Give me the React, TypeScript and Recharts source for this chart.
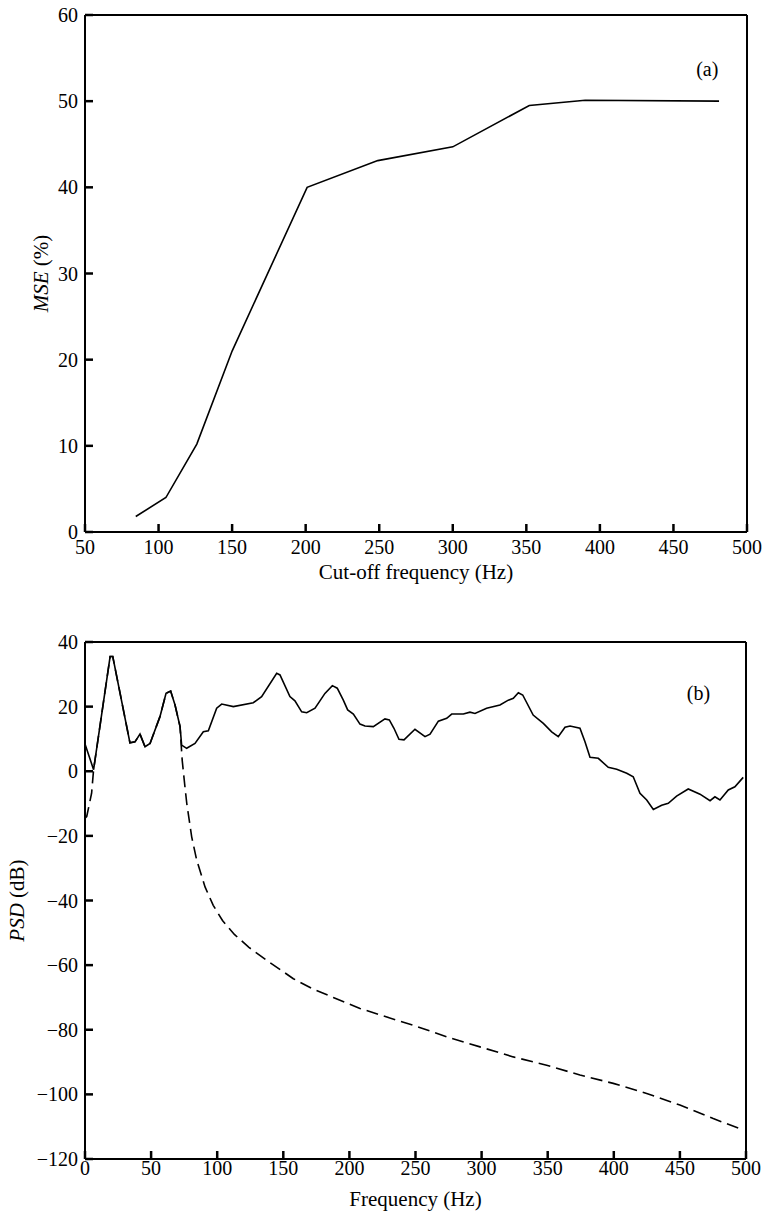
import { LineChart, Line, XAxis, YAxis, ReferenceLine, ReferenceDot } from 'recharts'

const serif = '"Liberation Serif", "Times New Roman", serif'

// (a) MSE against cut-off frequency
const cutoffHz = [74, 83.5, 84, 84.5, 105, 126, 150, 201, 249, 300, 352, 390, 481]
const msePct = [0, 0, null, 1.8, 4, 10.2, 21, 40, 43.1, 44.7, 49.5, 50.1, 50]
const cutoffTicks = [50, 100, 150, 200, 250, 300, 350, 400, 450, 500]
const mseTicks = [0, 10, 20, 30, 40, 50, 60]

// (b) PSD, solid = original signal
const solidHz = [
  0, 6.5, 19, 21, 34, 37.8, 41.6, 45.4, 49.2, 56.7, 61.3, 64.8, 68.1, 71.9, 73.1, 76.9, 83.2, 89.5,
  93.3, 99.6, 103.4, 112.2, 127.3, 133.6, 145, 147.5, 155, 158.8, 163.9, 167.7, 174, 181.5, 187.1,
  190.8, 195.4, 198.7, 203, 208, 211.8, 218.1, 226.9, 230.2, 233.7, 237.5, 241.3, 249.6, 257.2, 261,
  267.3, 273.6, 277.4, 286.2, 291.2, 295, 303.8, 313.9, 320.2, 324, 327.8, 331.1, 339, 346.7, 353,
  358, 363.1, 366.9, 374.4, 378.2, 382, 388.3, 395.8, 402.2, 409.8, 414.7, 419.8, 424.9, 429.9,
  436.2, 441.2, 447.5, 456.3, 465.2, 472.8, 476.5, 480.3, 486.6, 491.6, 497.9,
]
const solidDb = [
  8.4, 0.5, 35.5, 35.5, 8.8, 9.1, 11.5, 7.6, 8.6, 16.9, 24.1, 24.8, 20.5, 13.8, 8.1, 7.1, 8.6, 12.2,
  12.5, 19.5, 20.8, 20, 21.2, 23.1, 30.3, 29.8, 23.1, 21.8, 18.4, 18.1, 19.5, 24.1, 26.5,
  25.7, 22, 19, 17.7, 14.6, 14, 13.8, 16.2, 15.9, 13.3, 9.9, 9.7, 13, 10.7, 11.5,
  15.5, 16.4, 17.7, 17.7, 18.3, 17.9, 19.5, 20.5, 22, 22.6, 24.3, 23.6, 17.4, 14.8, 12.2,
  10.7, 13.6, 14, 13.3, 9.1, 4.3, 4, 1.2, 0.6, -0.6, -1.7, -6.8, -8.9, -11.8,
  -10.5, -9.9, -7.7, -5.5, -7.1, -9.1, -7.9, -8.9, -5.8, -4.8, -1.9,
]

// (b) PSD, dashed = low-pass filtered
const dashedHz = [
  0, 1.3, 5, 6.5, 19, 21, 34, 37.8, 41.6, 45.4, 49.2, 56.7, 61.3, 64.8, 68.1, 71.9, 73.5, 75.6, 77,
  80.7, 84.5, 90.8, 97, 104, 113, 124, 137.4, 157.6, 172, 187.8, 208, 223, 248.3, 273.6, 298.8, 324,
  349.2, 374.4, 399.6, 424.9, 450, 475.2, 495.4,
]
const dashedDb = [
  -14.5, -14, -6.8, 0.5, 35.5, 35.5, 8.8, 9.1, 11.5, 7.6, 8.6, 16.9, 24.1, 24.8, 20.5, 13.8, 3.5, -4.8, -10,
  -20.3, -27.5, -35.8, -41.5, -46.2, -50.5, -54.5, -58.5, -64.2, -67.3, -70, -73.4, -75.4, -78.6, -82.2,
  -85.3, -88.4, -91, -94, -96.6, -99.7, -103.3, -107.5, -110.6,
]
const freqTicks = [0, 50, 100, 150, 200, 250, 300, 350, 400, 450, 500]
const psdTicks = [-120, -100, -80, -60, -40, -20, 0, 20, 40]

const mseData = cutoffHz.map((f, i) => ({ f, v: msePct[i] }))
const solidData = solidHz.map((f, i) => ({ f, v: solidDb[i] }))
const dashedData = dashedHz.map((f, i) => ({ f, v: dashedDb[i] }))

const axisLine = { stroke: '#000', strokeWidth: 2 }
const minus = (v: number) => String(v).replace('-', '\u2212')

// ticks point into the plot, so the line is drawn here with the label
function XTick({ x, y, payload, m }: any) {
  const base = y - m
  return (
    <g>
      <line x1={x} x2={x} y1={base} y2={base - 8} stroke="#000" strokeWidth={2.5} />
      <text x={x} y={y} dy="0.71em" textAnchor="middle" fontFamily={serif} fontSize={20} fill="#000">
        {payload.value}
      </text>
    </g>
  )
}

function YTick({ x, y, payload, m }: any) {
  const base = x + m
  return (
    <g>
      <line x1={base} x2={base + 8} y1={y} y2={y} stroke="#000" strokeWidth={2.5} />
      <text x={x} y={y} dy="0.355em" textAnchor="end" fontFamily={serif} fontSize={20} fill="#000">
        {minus(payload.value)}
      </text>
    </g>
  )
}

function XTitle({ viewBox, text }: any) {
  const { x, y, width } = viewBox
  return (
    <text x={x + width / 2} y={y + 47} textAnchor="middle" fontFamily={serif} fontSize={21} fill="#000">
      {text}
    </text>
  )
}

function YTitle({ viewBox, italic, rest, bx }: any) {
  const { y, height } = viewBox
  const cy = y + height / 2
  return (
    <text
      transform={`translate(${bx},${cy}) rotate(-90)`}
      textAnchor="middle"
      fontFamily={serif}
      fontSize={21}
      fill="#000"
    >
      <tspan fontStyle="italic">{italic}</tspan>
      {rest}
    </text>
  )
}

function MsePanel() {
  return (
    <LineChart width={767} height={600} data={mseData} margin={{ top: 15, right: 20, left: 25, bottom: 28 }}>
      <XAxis
        dataKey="f"
        type="number"
        domain={[50, 500]}
        ticks={cutoffTicks}
        height={40}
        axisLine={axisLine}
        tickLine={false}
        tickSize={0}
        tickMargin={8}
        tick={(p: any) => <XTick {...p} m={8} />}
        label={{ content: (p: any) => <XTitle {...p} text="Cut-off frequency (Hz)" /> }}
      />
      <YAxis
        type="number"
        domain={[0, 60]}
        ticks={mseTicks}
        width={60}
        axisLine={axisLine}
        tickLine={false}
        tickSize={0}
        tickMargin={7}
        tick={(p: any) => <YTick {...p} m={7} />}
        label={{ content: (p: any) => <YTitle {...p} italic="MSE" rest=" (%)" bx={48} /> }}
      />
      <ReferenceLine y={60} stroke="#000" strokeWidth={2} />
      <ReferenceLine x={500} stroke="#000" strokeWidth={2} />
      <ReferenceDot
        x={473}
        y={53.8}
        r={0}
        fill="none"
        stroke="none"
        label={{ value: '(a)', position: 'center', fill: '#000', fontSize: 20, fontFamily: serif }}
      />
      <Line
        type="linear"
        dataKey="v"
        stroke="#000"
        strokeWidth={1.6}
        dot={false}
        isAnimationActive={false}
      />
    </LineChart>
  )
}

function PsdPanel() {
  return (
    <LineChart width={767} height={616} margin={{ top: 42, right: 21, left: 25, bottom: 17 }}>
      <XAxis
        dataKey="f"
        type="number"
        domain={[0, 500]}
        ticks={freqTicks}
        height={40}
        axisLine={axisLine}
        tickLine={false}
        tickSize={0}
        tickMargin={2}
        tick={(p: any) => <XTick {...p} m={2} />}
        label={{ content: (p: any) => <XTitle {...p} text="Frequency (Hz)" /> }}
      />
      <YAxis
        type="number"
        domain={[-120, 40]}
        ticks={psdTicks}
        width={60}
        axisLine={axisLine}
        tickLine={false}
        tickSize={0}
        tickMargin={7}
        tick={(p: any) => <YTick {...p} m={7} />}
        label={{ content: (p: any) => <YTitle {...p} italic="PSD" rest=" (dB)" bx={24} /> }}
      />
      <ReferenceLine y={40} stroke="#000" strokeWidth={2} />
      <ReferenceLine x={500} stroke="#000" strokeWidth={2} />
      <ReferenceDot
        x={464}
        y={24.2}
        r={0}
        fill="none"
        stroke="none"
        label={{ value: '(b)', position: 'center', fill: '#000', fontSize: 20, fontFamily: serif }}
      />
      <Line
        data={dashedData}
        type="linear"
        dataKey="v"
        stroke="#000"
        strokeWidth={1.6}
        strokeDasharray="12 6"
        dot={false}
        isAnimationActive={false}
      />
      <Line
        data={solidData}
        type="linear"
        dataKey="v"
        stroke="#000"
        strokeWidth={1.6}
        dot={false}
        isAnimationActive={false}
      />
    </LineChart>
  )
}

export default function App() {
  return (
    <div style={{ position: 'absolute', left: 0, top: 0, width: 767, height: 1216, background: '#fff' }}>
      <MsePanel />
      <PsdPanel />
    </div>
  )
}
